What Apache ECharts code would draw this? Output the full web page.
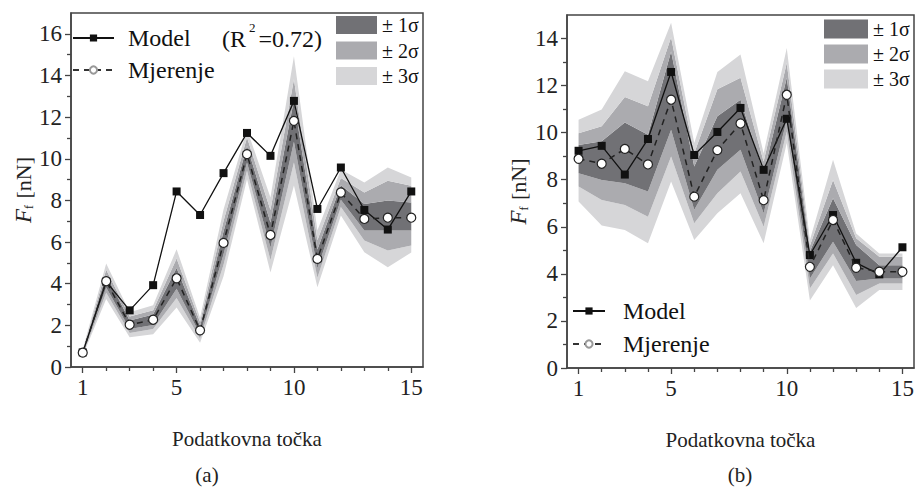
<!DOCTYPE html>
<html><head><meta charset="utf-8">
<script src="https://cdn.jsdelivr.net/npm/echarts@6/dist/echarts.min.js"></script>
<style>html,body{margin:0;padding:0;background:#fff}#c{width:917px;height:488px}</style>
</head><body><div id="c"></div>
<script>
// ---------- data ----------
const points = [1,2,3,4,5,6,7,8,9,10,11,12,13,14,15];
const xMajor = [1,5,10,15];
const yMajorA = [0,2,4,6,8,10,12,14,16];
const yMinorA = [1,3,5,7,9,11,13,15];
const yMajorB = [0,2,4,6,8,10,12,14];
const yMinorB = [1,3,5,7,9,11,13];

// chart (a)
const modelA = [0.70,4.10,2.72,3.93,8.43,7.30,9.31,11.24,10.14,12.78,7.59,9.58,7.54,6.60,8.43];
const measA  = [0.69,4.12,2.03,2.27,4.26,1.76,5.96,10.22,6.34,11.82,5.19,8.38,7.11,7.17,7.17];
const hi3A = [0.84,4.97,2.63,2.97,5.66,2.36,7.56,11.42,8.14,14.92,6.55,9.48,8.86,9.58,9.10];
const hi2A = [0.79,4.67,2.43,2.72,5.21,2.16,7.01,11.02,7.54,13.82,6.09,9.08,8.38,8.94,8.70];
const hi1A = [0.74,4.42,2.23,2.52,4.76,1.96,6.51,10.62,6.94,12.82,5.64,8.73,7.83,7.99,7.90];
const lo1A = [0.64,3.82,1.83,2.02,3.76,1.56,5.41,9.82,5.74,10.82,4.74,8.03,6.55,6.55,6.55];
const lo2A = [0.59,3.57,1.63,1.82,3.31,1.36,4.91,9.42,5.14,9.82,4.29,7.68,6.07,5.59,5.83];
const lo3A = [0.54,3.27,1.43,1.57,2.86,1.16,4.36,9.02,4.54,8.72,3.83,7.28,5.51,4.79,5.50];

// chart (b)
const modelB = [9.23,9.44,8.22,9.73,12.58,9.05,10.03,11.05,8.42,10.59,4.80,6.50,4.47,3.98,5.13];
const measB  = [8.89,8.68,9.31,8.65,11.40,7.28,9.26,10.39,7.13,11.61,4.30,6.29,4.26,4.09,4.09];
const hi3B = [10.55,10.98,12.61,12.18,14.67,9.56,12.58,13.32,9.13,13.60,5.44,8.85,5.72,4.87,4.87];
const hi2B = [9.98,10.27,11.52,11.12,14.05,9.13,11.85,12.33,8.77,12.96,5.20,7.99,5.51,4.73,4.73];
const hi1B = [9.48,9.63,10.43,9.91,13.45,8.56,10.70,11.40,8.28,12.33,4.95,7.21,5.23,4.37,4.37];
const lo1B = [8.28,7.99,7.85,7.50,10.12,6.72,8.42,9.27,6.58,10.55,3.80,5.37,3.70,3.80,3.80];
const lo2B = [7.71,7.14,6.93,6.43,8.99,6.15,7.43,8.35,6.00,10.05,3.38,4.87,3.10,3.59,3.59];
const lo3B = [7.07,6.05,5.86,5.30,7.92,5.44,6.58,7.43,5.30,9.56,2.87,4.37,2.55,3.31,3.31];

const legendLines = ['Model','Mjerenje'];
const legendBands = ['± 1σ','± 2σ','± 3σ'];
const panelLabels = ['(a)','(b)'];
const xName = 'Podatkovna točka';

// ---------- styles ----------
const FONT = 'Liberation Serif';
const C1 = '#717175', C2 = '#ababaf', C3 = '#d6d6d8';
const AX = '#444';

const diff = (a,b) => points.map((x,i)=>+(a[i]-b[i]).toFixed(3));

function bands(xi, yi, stack, lo3, lo2, lo1, hi1, hi2, hi3){
  const mk = (name, color, data, fill) => ({
    type:'line', name, xAxisIndex:xi, yAxisIndex:yi, stack, data,
    symbol:'none', silent:true, z:1,
    lineStyle:{width:0, opacity:0},
    itemStyle:{color: color || '#fff'},
    areaStyle: fill ? {color, opacity:1} : undefined
  });
  return [
    mk('_base', null, lo3.slice(), false),
    mk('± 3σ', C3, diff(lo2,lo3), true),
    mk('± 2σ', C2, diff(lo1,lo2), true),
    mk('± 1σ', C1, diff(hi1,lo1), true),
    mk('± 2σ', C2, diff(hi2,hi1), true),
    mk('± 3σ', C3, diff(hi3,hi2), true)
  ];
}
function lines(xi, yi, model, meas){
  return [
    {type:'line', name:'Model', xAxisIndex:xi, yAxisIndex:yi, data:model, z:3,
     symbol:'rect', symbolSize:8, itemStyle:{color:'#111'},
     lineStyle:{color:'#111', width:1.3}},
    {type:'line', name:'Mjerenje', xAxisIndex:xi, yAxisIndex:yi, data:meas, z:4,
     symbol:'circle', symbolSize:9, itemStyle:{color:'#fff', borderColor:'#222', borderWidth:1.2},
     lineStyle:{color:'#222', width:1.5, type:[6,5]}}
  ];
}
const xMinor = points.filter(p => xMajor.indexOf(p) < 0);
function xAxes(grid){
  return [
    {gridIndex:grid, type:'category', data:points.map(String), boundaryGap:true, show:false, position:'top'},
    {gridIndex:grid, type:'value', min:0.5, max:15.5, position:'bottom',
     axisLine:{show:true, lineStyle:{color:AX, width:1.5}},
     axisTick:{show:true, customValues:xMajor, length:6, lineStyle:{color:AX, width:1.3}},
     axisLabel:{customValues:xMajor, fontSize:23, fontFamily:FONT, color:'#222', margin:9},
     splitLine:{show:false},
     name:xName, nameLocation:'middle', nameGap:61,
     nameTextStyle:{fontSize:21, fontFamily:FONT, color:'#222'}},
    {gridIndex:grid, type:'value', min:0.5, max:15.5, position:'bottom',
     axisLine:{show:false},
     axisTick:{show:true, customValues:xMinor, length:4, lineStyle:{color:AX, width:1.3}},
     axisLabel:{show:false}, splitLine:{show:false}}
  ];
}
function yAxes(grid, max, major, minor, gap){
  return [
    {gridIndex:grid, type:'value', min:0, max:max, position:'left',
     axisLine:{show:true, lineStyle:{color:AX, width:1.5}},
     axisTick:{show:true, customValues:major, length:6, lineStyle:{color:AX, width:1.3}},
     axisLabel:{customValues:major, fontSize:23, fontFamily:FONT, color:'#222', margin:9},
     splitLine:{show:false},
     name:'{i|F}{s|f} {n|[nN]}', nameLocation:'middle', nameGap:gap,
     nameTextStyle:{fontSize:22, fontFamily:FONT, color:'#222',
       rich:{i:{fontStyle:'italic', fontSize:23, fontFamily:FONT, color:'#222'},
             n:{fontSize:22, fontFamily:FONT, color:'#222'},
             s:{fontSize:12, fontFamily:FONT, color:'#222', verticalAlign:'bottom', padding:[8,1,0,0]}}}},
    {gridIndex:grid, type:'value', min:0, max:max, position:'left',
     axisLine:{show:false},
     axisTick:{show:true, customValues:minor, length:4, lineStyle:{color:AX, width:1.3}},
     axisLabel:{show:false}, splitLine:{show:false}}
  ];
}
function lineLegend(left, top, w, gap, pad){
  return {data:[{name:legendLines[0]},{name:legendLines[1], itemStyle:{borderColor:'#999', color:'#fff'}, lineStyle:{color:'#333'}}],
    left, top, orient:'vertical', itemWidth:w, itemHeight:9, itemGap:gap, padding:0,
    selectedMode:false,
    textStyle:{fontFamily:FONT, fontSize:24, lineHeight:26, color:'#111', padding:[0,0,0,pad]}};
}
function bandLegend(left, top, w, h, gap){
  return {data: legendBands.map(n=>({name:n, icon:'rect'})),
    left, top, orient:'vertical', itemWidth:w, itemHeight:h, itemGap:gap, padding:0,
    selectedMode:false, itemStyle:{borderWidth:0},
    textStyle:{fontFamily:FONT, fontSize:20, lineHeight:h, color:'#111'}};
}

const option = {
  animation:false,
  backgroundColor:'#fff',
  textStyle:{fontFamily:FONT},
  grid:[
    {left:71, top:13, width:352, height:354, show:true, borderColor:AX, borderWidth:1.5, backgroundColor:'transparent'},
    {left:567, top:15, width:347, height:353, show:true, borderColor:AX, borderWidth:1.5, backgroundColor:'transparent'}
  ],
  xAxis:[...xAxes(0), ...xAxes(1)],
  yAxis:[...yAxes(0,17,yMajorA,yMinorA,36), ...yAxes(1,15,yMajorB,yMinorB,37)],
  legend:[
    lineLegend(72, 25, 41, 6, 9),
    bandLegend(336, 15, 41, 18, 5.5),
    lineLegend(572, 298, 32, 7, 13),
    bandLegend(824, 19, 44, 19, 5)
  ],
  title:[
    {text:'{n|(R}{p|2}{n|=0.72)}', left:222, top:21, padding:0,
     textStyle:{fontWeight:'normal', rich:{n:{fontSize:24, fontWeight:'normal', fontFamily:FONT, color:'#111', padding:[6,0,0,0]},
                      p:{fontSize:13, fontWeight:'normal', fontFamily:FONT, color:'#111', verticalAlign:'top', padding:[0,3,16,3]}}}},
    {text:panelLabels[0], left:207, top:464, textAlign:'center', padding:0,
     textStyle:{fontSize:21, fontWeight:'normal', fontFamily:FONT, color:'#222'}},
    {text:panelLabels[1], left:740, top:464, textAlign:'center', padding:0,
     textStyle:{fontSize:21, fontWeight:'normal', fontFamily:FONT, color:'#222'}}
  ],
  series:[
    ...bands(0,0,'bandA',lo3A,lo2A,lo1A,hi1A,hi2A,hi3A),
    ...lines(0,0,modelA,measA),
    ...bands(3,2,'bandB',lo3B,lo2B,lo1B,hi1B,hi2B,hi3B),
    ...lines(3,2,modelB,measB)
  ]
};
const chart = echarts.init(document.getElementById('c'), null, {renderer:'svg'});
chart.setOption(option);
</script>
</body></html>
